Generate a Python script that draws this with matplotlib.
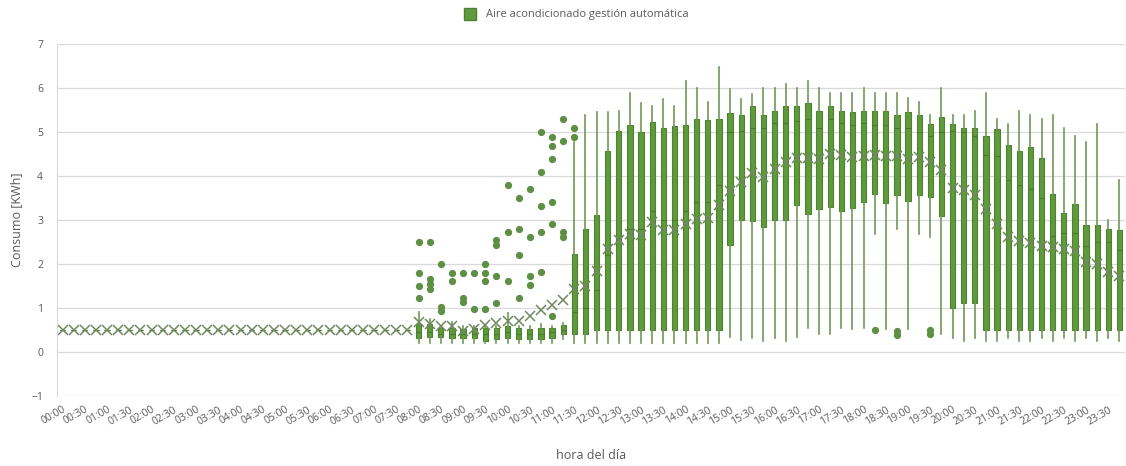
import matplotlib
matplotlib.use("Agg")
import matplotlib.pyplot as plt
from matplotlib.lines import Line2D

plt.rcParams['font.family'] = ['Open Sans', 'DejaVu Sans']

# 15-minute slots over one day; the axis labels every half hour
slot_labels = [f"{h:02d}:{m:02d}" for h in range(24) for m in (0, 15, 30, 45)]

# Night hours: every slot sits at the 0.5 kWh base load
flat = [0.5] * 32

whislo = flat + [
    0.21, 0.21, 0.21, 0.21, 0.21, 0.21, 0.21, 0.21, 0.21, 0.21, 0.21, 0.21, 0.21, 0.30,
    0.21, 0.21, 0.21, 0.21, 0.21, 0.21, 0.21, 0.21, 0.21, 0.21, 0.21, 0.21, 0.21, 0.21,
    0.33, 0.27, 0.31, 0.24, 0.31, 0.24, 0.33, 0.54, 0.41, 0.41, 0.54, 0.52, 0.54, 2.69,
    0.52, 2.79, 0.52, 2.69, 2.62, 0.42, 0.31, 0.24, 0.31, 0.24, 0.24, 0.31, 0.24, 0.24,
    0.31, 0.24, 0.31, 0.24, 0.31, 0.24, 0.31, 0.24]
q1 = flat + [
    0.31, 0.33, 0.33, 0.31, 0.31, 0.31, 0.26, 0.30, 0.31, 0.30, 0.30, 0.30, 0.32, 0.42,
    0.42, 0.42, 0.51, 0.51, 0.51, 0.51, 0.51, 0.51, 0.51, 0.51, 0.51, 0.51, 0.51, 0.51,
    2.43, 3.00, 2.98, 2.83, 3.00, 3.00, 3.34, 3.13, 3.25, 3.30, 3.20, 3.28, 3.41, 3.60,
    3.39, 3.57, 3.44, 3.57, 3.52, 3.10, 0.99, 1.11, 1.12, 0.51, 0.51, 0.51, 0.51, 0.51,
    0.51, 0.51, 0.51, 0.51, 0.51, 0.51, 0.51, 0.51]
median = flat + [
    0.45, 0.45, 0.42, 0.42, 0.40, 0.40, 0.40, 0.40, 0.45, 0.40, 0.40, 0.40, 0.45, 0.50,
    0.90, 1.00, 1.40, 2.20, 2.60, 2.80, 2.80, 3.20, 3.00, 3.00, 3.20, 3.40, 3.40, 3.80,
    5.00, 5.03, 5.10, 5.10, 5.20, 5.20, 5.25, 5.30, 5.10, 5.30, 5.20, 5.15, 5.20, 5.15,
    5.15, 5.10, 5.10, 5.00, 4.90, 5.00, 5.03, 5.00, 4.90, 4.47, 4.45, 3.90, 3.80, 3.70,
    3.50, 2.63, 2.71, 2.71, 2.42, 2.50, 2.50, 2.32]
q3 = flat + [
    0.64, 0.64, 0.54, 0.54, 0.52, 0.54, 0.54, 0.54, 0.59, 0.54, 0.53, 0.54, 0.54, 0.61,
    2.22, 2.80, 3.12, 4.57, 5.03, 5.17, 5.00, 5.22, 5.08, 5.14, 5.17, 5.29, 5.27, 5.29,
    5.44, 5.38, 5.58, 5.39, 5.48, 5.60, 5.60, 5.67, 5.48, 5.60, 5.48, 5.46, 5.48, 5.48,
    5.48, 5.39, 5.46, 5.39, 5.18, 5.35, 5.18, 5.08, 5.08, 4.91, 5.06, 4.70, 4.56, 4.65,
    4.42, 3.58, 3.15, 3.36, 2.89, 2.89, 2.80, 2.77]
whishi = flat + [
    0.92, 0.75, 0.60, 0.69, 0.58, 0.60, 0.62, 0.60, 0.88, 0.60, 0.58, 0.63, 0.60, 0.65,
    4.78, 5.39, 5.46, 5.46, 5.48, 5.88, 5.67, 5.59, 5.76, 5.59, 6.17, 6.00, 5.69, 6.47,
    5.97, 5.76, 5.86, 6.00, 6.00, 6.08, 6.00, 6.17, 6.00, 5.88, 5.88, 5.88, 6.00, 5.88,
    5.88, 5.88, 5.78, 5.69, 5.39, 6.00, 5.39, 5.39, 5.48, 5.88, 5.29, 5.18, 5.48, 5.39,
    5.29, 5.39, 5.08, 4.91, 4.78, 5.18, 3.00, 3.91]
mean = flat + [
    0.69, 0.64, 0.58, 0.60, 0.48, 0.52, 0.61, 0.65, 0.70, 0.71, 0.82, 0.95, 1.07, 1.18,
    1.43, 1.50, 1.85, 2.33, 2.55, 2.68, 2.66, 2.95, 2.77, 2.77, 2.90, 3.02, 3.04, 3.34,
    3.65, 3.87, 4.06, 3.98, 4.15, 4.32, 4.42, 4.42, 4.38, 4.50, 4.47, 4.44, 4.46, 4.47,
    4.45, 4.45, 4.38, 4.44, 4.32, 4.14, 3.72, 3.68, 3.57, 3.26, 2.92, 2.62, 2.53, 2.47,
    2.41, 2.39, 2.33, 2.30, 2.05, 2.01, 1.81, 1.73]

# Outlying observations per slot index
outliers = {
    32: [2.51, 1.80, 1.51, 1.22],
    33: [2.51, 1.65, 1.55, 1.43],
    34: [2.01, 1.02, 0.93],
    35: [1.80, 1.61],
    36: [1.80, 1.23, 1.14],
    37: [1.80, 0.98],
    38: [2.01, 1.80, 1.61, 0.98],
    39: [2.55, 2.44, 1.72, 1.11],
    40: [3.80, 2.72, 1.62],
    41: [3.50, 2.80, 2.20, 1.22],
    42: [3.70, 2.61, 1.72, 1.52],
    43: [4.99, 4.09, 3.31, 2.72, 1.81],
    44: [4.89, 4.69, 4.39, 3.40, 2.91, 0.82],
    45: [5.29, 4.79, 2.72, 2.62],
    46: [5.08, 4.89],
    73: [0.51],
    75: [0.48, 0.39],
    78: [0.51, 0.40],
}

GREEN = '#5f9a3c'
EDGE = '#4d8030'
WHISK = '#6f9a58'
MEAN_C = '#6f8a60'
TEXT = '#595959'

stats = []
for i in range(len(slot_labels)):
    stats.append(dict(whislo=whislo[i], q1=q1[i], med=median[i], q3=q3[i],
                      whishi=whishi[i], mean=mean[i], fliers=outliers.get(i, [])))

fig = plt.figure(figsize=(11.26, 4.66), dpi=100)
ax = fig.add_axes([57 / 1126, 70 / 466, 1068 / 1126, 352 / 466])

ax.bxp(stats, positions=range(len(stats)), widths=0.48, patch_artist=True,
       showmeans=True, showcaps=False,
       boxprops=dict(facecolor=GREEN, edgecolor=EDGE, linewidth=0.8),
       medianprops=dict(color='#4a7a2e', linewidth=0.8),
       whiskerprops=dict(color=WHISK, linewidth=1.2),
       flierprops=dict(marker='o', markerfacecolor='#5e8f45', markeredgecolor='#5e8f45',
                       markersize=4.2),
       meanprops=dict(marker='x', markeredgecolor=MEAN_C, markersize=7.5,
                      markeredgewidth=1.1))

ax.set_xlim(-0.5, len(slot_labels) - 0.5)
ax.set_ylim(-1, 7)
ax.set_yticks(range(-1, 8))
ax.yaxis.grid(True, color='#d9d9d9', linewidth=0.9)
ax.set_axisbelow(True)
for side in ('top', 'right', 'bottom'):
    ax.spines[side].set_visible(False)
ax.spines['left'].set_color('#d9d9d9')

ax.set_xticks(range(0, len(slot_labels), 2))
ax.set_xticklabels(slot_labels[::2], rotation=30, ha='right', rotation_mode='anchor',
                   fontsize=7.5, color=TEXT)
ax.tick_params(axis='x', length=0, pad=6)
ax.tick_params(axis='y', length=0, pad=10, labelsize=7.5, labelcolor=TEXT)

ax.set_ylabel('Consumo [KWh]', fontsize=9, color=TEXT, labelpad=6)
ax.set_xlabel('hora del día', fontsize=9, color=TEXT, labelpad=16)

handle = Line2D([], [], linestyle='none', marker='s', markersize=8,
                markerfacecolor=GREEN, markeredgecolor=EDGE)
fig.legend([handle], ['Aire acondicionado gestión automática'], loc='center',
           bbox_to_anchor=(574 / 1126, 1 - 15 / 466), frameon=False, fontsize=8,
           labelcolor=TEXT, handletextpad=0.4)

fig.savefig('out.png', dpi=100, facecolor='white')
